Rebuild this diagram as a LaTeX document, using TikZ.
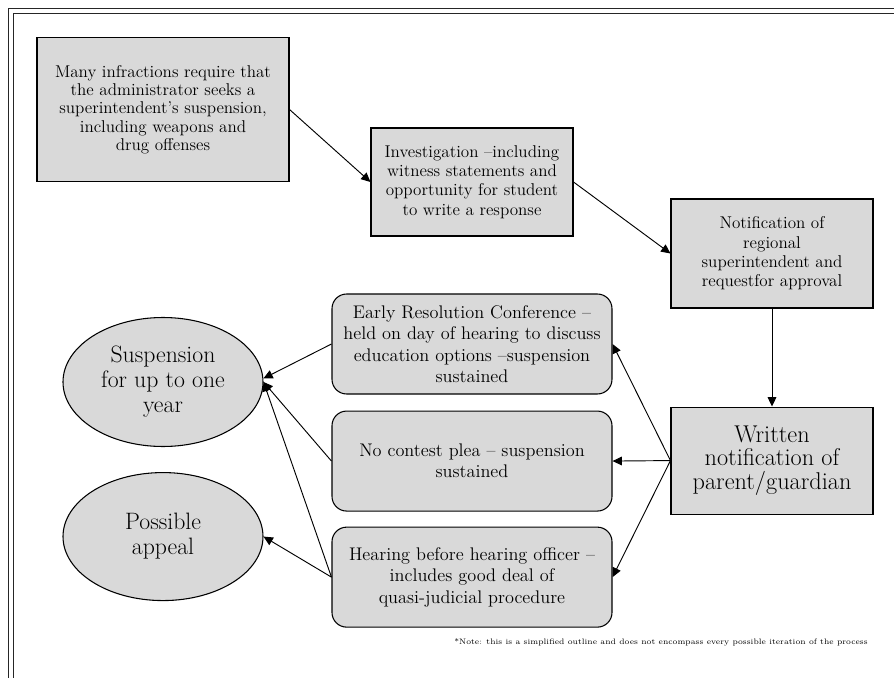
\documentclass[tikz,border=0pt]{standalone}
\usepackage{fontspec}
\usetikzlibrary{arrows.meta,positioning,shapes.geometric}

\definecolor{boxgray}{RGB}{217,217,217}

\tikzset{
  stepbox/.style={draw, line width=0.8pt, fill=boxgray, align=center, inner sep=2pt,
    minimum width=151.5pt, minimum height=81pt, font=\fontsize{12.8}{14.5}\selectfont},
  optionbox/.style={draw, line width=0.8pt, fill=boxgray, align=center, inner sep=2pt,
    rounded corners=11pt, minimum width=210pt, minimum height=75pt,
    font=\fontsize{13.7}{16}\selectfont},
  outcome/.style={ellipse, draw, line width=0.8pt, fill=boxgray, align=center, inner sep=0pt,
    minimum width=150pt, minimum height=96.75pt, font=\fontsize{17.8}{18.75}\selectfont},
  notetext/.style={inner sep=0pt, font=\fontsize{5.95}{7}\selectfont},
  frameline/.style={line width=1.4pt, black!85}
}

\begin{document}
\begin{tikzpicture}[>={Triangle[length=7pt,width=6.5pt]}, node distance=12pt,
    x=0.75pt, y=-0.75pt]

  \useasboundingbox (0,0) rectangle (894,678);

  % double frame, cut at right and bottom
  \draw[frameline] (8.5,678) -- (8.5,8.5) -- (894,8.5);
  \draw[frameline] (13.5,678) -- (13.5,13.5) -- (894,13.5);

  \node[stepbox, minimum width=189pt, minimum height=108pt,
        font=\fontsize{12.8}{13.75}\selectfont] (infr) at (163,109.5)
    {Many infractions require that\\the administrator seeks a\\superintendent's suspension,\\including weapons and\\drug offenses};

  \node[stepbox] (inv) at (472,182)
    {Investigation –including\\witness statements and\\opportunity for student\\to write a response};

  \node[stepbox, minimum height=81.75pt] (notif) at (772,253.5)
    {Notification of\\regional\\superintendent and\\requestfor approval};

  \node[stepbox, minimum height=80.25pt, font=\fontsize{18.2}{17.5}\selectfont] (written) [below=73.5pt of notif]
    {Written\\notification of\\parent/guardian};

  \node[optionbox] (early) at (472,344)
    {Early Resolution Conference –\\held on day of hearing to discuss\\education options –suspension\\sustained};

  \node[optionbox] (nocontest) [below=of early]
    {No contest plea – suspension\\sustained};

  \node[optionbox] (hearing) [below=11.25pt of nocontest]
    {Hearing before hearing officer –\\includes good deal of\\quasi-judicial procedure};

  \node[outcome] (susp) at (163,382)
    {Suspension\\for up to one\\year};

  \node[outcome, minimum height=96pt] (appeal) [below=18.75pt of susp]
    {Possible\\appeal};

  \node[notetext, anchor=base east] (note) at (868,644)
    {*Note: this is a simplified outline and does not encompass every possible iteration of the process};

  \path[->, line width=0.7pt]
        (infr.east) edge (inv.west)
        (inv.east) edge (notif.west)
        (notif) edge (written)
        (written.west) edge (early.east)
                       edge (nocontest.east)
                       edge (hearing.east)
        (early.west) edge (susp.2)
        (nocontest.west) edge (susp.east)
        (hearing.west) edge (susp.east)
                       edge (appeal.east);

\end{tikzpicture}
\end{document}
